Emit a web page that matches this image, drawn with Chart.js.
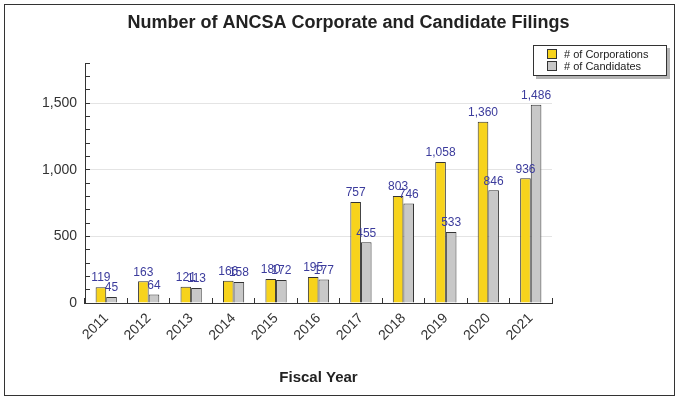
<!DOCTYPE html>
<html>
<head>
<meta charset="utf-8">
<script src="https://cdn.jsdelivr.net/npm/chart.js@4.4.1/dist/chart.umd.min.js"></script>
<style>
html,body{margin:0;padding:0;background:#fff;}
#wrap{position:relative;width:679px;height:400px;}
</style>
</head>
<body>
<div id="wrap"><canvas id="c" width="679" height="400"></canvas></div>
<script>
const chartTitle = 'Number of ANCSA Corporate and Candidate Filings';
const xAxisTitle = 'Fiscal Year';
const categories = ['2011','2012','2013','2014','2015','2016','2017','2018','2019','2020','2021'];
const corporations = [119,163,121,166,180,195,757,803,1058,1360,936];
const candidates = [45,64,113,158,172,177,455,746,533,846,1486];
const seriesNames = ['# of Corporations','# of Candidates'];
const seriesColors = ['#F7D31C','#C8C8C8'];
const yMin = 0, yMax = 1800, yMinorStep = 100, yMajorStep = 500;

const fontFam = '"Liberation Sans", Arial, Helvetica, sans-serif';
const fmt = v => v.toLocaleString('en-US');

const framePlugin = {
  id: 'frame',
  afterDraw(chart) {
    const ctx = chart.ctx;
    ctx.save();
    // outer border
    ctx.strokeStyle = '#333';
    ctx.lineWidth = 1;
    ctx.strokeRect(4.5, 4.5, 670, 391);
    // title
    ctx.fillStyle = '#222';
    ctx.font = 'bold 18px ' + fontFam;
    ctx.textAlign = 'center';
    ctx.textBaseline = 'middle';
    ctx.fillText(chartTitle, 348.5, 23);
    // legend
    const lx = 533, ly = 45, lw = 134, lh = 31;
    ctx.fillStyle = '#b4b4b4';
    ctx.fillRect(lx + 3, ly + 3, lw, lh);
    ctx.fillStyle = '#fff';
    ctx.fillRect(lx, ly, lw, lh);
    ctx.strokeStyle = '#333';
    ctx.strokeRect(lx + 0.5, ly + 0.5, lw - 1, lh - 1);
    ctx.font = '11px ' + fontFam;
    ctx.textAlign = 'left';
    for (let i = 0; i < seriesNames.length; i++) {
      const yy = ly + 4 + i * 12;
      ctx.fillStyle = seriesColors[i];
      ctx.fillRect(lx + 14, yy, 10, 10);
      ctx.strokeStyle = '#333';
      ctx.strokeRect(lx + 14.5, yy + 0.5, 9, 9);
      ctx.fillStyle = '#222';
      ctx.fillText(seriesNames[i], lx + 31, yy + 5.5);
    }
    ctx.restore();
  }
};

const valueLabels = {
  id: 'valueLabels',
  afterDatasetsDraw(chart) {
    const ctx = chart.ctx;
    ctx.save();
    ctx.font = '12px ' + fontFam;
    ctx.fillStyle = '#3b3b9c';
    ctx.textAlign = 'center';
    ctx.textBaseline = 'bottom';
    chart.data.datasets.forEach((ds, di) => {
      const meta = chart.getDatasetMeta(di);
      meta.data.forEach((bar, i) => {
        ctx.fillText(fmt(ds.data[i]), bar.x, bar.y - 3);
      });
    });
    ctx.restore();
  }
};

new Chart(document.getElementById('c'), {
  type: 'bar',
  data: {
    labels: categories,
    datasets: [
      { label: seriesNames[0], data: corporations, backgroundColor: seriesColors[0], borderColor: '#333', borderWidth: 1 },
      { label: seriesNames[1], data: candidates, backgroundColor: seriesColors[1], borderColor: '#333', borderWidth: 1 }
    ]
  },
  options: {
    responsive: false,
    animation: false,
    devicePixelRatio: 1,
    layout: { padding: { left: 0, right: 127, top: 63, bottom: 0 } },
    datasets: { bar: { categoryPercentage: 0.5, barPercentage: 1.0 } },
    plugins: { legend: { display: false }, title: { display: false }, tooltip: { enabled: false } },
    scales: {
      x: {
        afterFit: s => { s.height = 97; },
        grid: { offset: true, drawOnChartArea: false, tickLength: -5, tickColor: '#333', tickWidth: 1 },
        border: { display: true, color: '#333', width: 1 },
        ticks: { color: '#333', font: { family: fontFam, size: 14 }, minRotation: 45, maxRotation: 45, padding: 12, autoSkip: false },
        title: { display: true, text: xAxisTitle, color: '#222', font: { family: fontFam, size: 15, weight: 'bold' }, padding: { top: 0, bottom: 13 } }
      },
      y: {
        min: yMin, max: yMax,
        afterFit: s => { s.width = 85; },
        grid: {
          drawOnChartArea: true,
          color: c => (c.tick && c.tick.value > 0 && c.tick.value % yMajorStep === 0) ? '#e4e4e4' : 'rgba(0,0,0,0)',
          tickColor: '#333', tickLength: -5, tickWidth: 1
        },
        border: { display: true, color: '#333', width: 1 },
        ticks: {
          stepSize: yMinorStep, autoSkip: false, color: '#333', padding: 13,
          font: { family: fontFam, size: 14 },
          callback: v => (v % yMajorStep === 0 ? fmt(v) : '')
        }
      }
    }
  },
  plugins: [framePlugin, valueLabels]
});
</script>
</body>
</html>
